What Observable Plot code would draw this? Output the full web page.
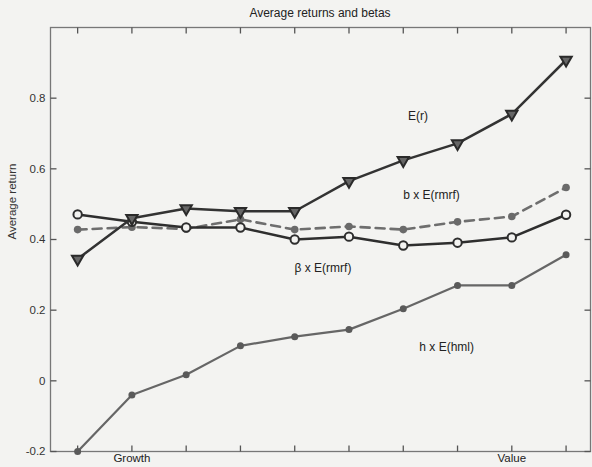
<!DOCTYPE html>
<html>
<head>
<meta charset="utf-8">
<script src="https://cdn.jsdelivr.net/npm/d3@7"></script>
<script src="https://cdn.jsdelivr.net/npm/@observablehq/plot@0.6"></script>
<style>
  html, body { margin: 0; padding: 0; background: #f3f3f1; }
  #title { height: 22px; width: 592px; font: 12px "Liberation Sans", Arial, sans-serif; color: #222;
           text-align: center; box-sizing: border-box; padding-left: 48px; line-height: 26px; }
</style>
</head>
<body>
<div id="title">Average returns and betas</div>
<div id="chart"></div>
<script>
const portfolios = [1, 2, 3, 4, 5, 6, 7, 8, 9, 10];
const er        = [0.345, 0.46, 0.488, 0.48, 0.48, 0.565, 0.624, 0.672, 0.755, 0.908];
const bErmrf    = [0.428, 0.435, 0.43, 0.457, 0.428, 0.437, 0.428, 0.45, 0.465, 0.547];
const betaErmrf = [0.471, 0.45, 0.434, 0.434, 0.40, 0.408, 0.383, 0.391, 0.406, 0.47];
const hEhml     = [-0.2, -0.04, 0.017, 0.099, 0.125, 0.145, 0.204, 0.27, 0.27, 0.357];
const yTicks = [-0.2, 0, 0.2, 0.4, 0.6, 0.8];
const xTickLabels = [{x: 2, label: "Growth"}, {x: 9, label: "Value"}];
const seriesLabels = [
  {x: 7.27, y: 0.749, text: "E(r)"},
  {x: 7.52, y: 0.525, text: "b x E(rmrf)"},
  {x: 5.52, y: 0.32, text: "β x E(rmrf)"},
  {x: 7.80, y: 0.096, text: "h x E(hml)"}
];

const rows = (vals) => portfolios.map((p, i) => ({x: p, y: vals[i]}));
const bg = "#f3f3f1";
const W = 592, H = 445, mL = 50, mR = 2, mT = 5, mB = 16, tickPx = 6;
const xDomain = [0.5, 10.45], yDomain = [-0.2, 1.0];
// tick length converted to data units so the library's scales place the ticks
const dx = tickPx * (xDomain[1] - xDomain[0]) / (W - mL - mR);
const dy = tickPx * (yDomain[1] - yDomain[0]) / (H - mT - mB);
const tickStyle = {stroke: "#555", strokeWidth: 1.3};

const chart = Plot.plot({
  width: W,
  height: H,
  marginLeft: mL,
  marginRight: mR,
  marginTop: mT,
  marginBottom: mB,
  style: {background: bg, fontFamily: "'Liberation Sans', Arial, sans-serif", fontSize: "11px", color: "#333"},
  x: {domain: xDomain, axis: null},
  y: {domain: yDomain},
  marks: [
    Plot.frame({stroke: "#777", strokeWidth: 1.3}),
    Plot.axisY(yTicks, {anchor: "left", tickSize: 0, tickPadding: 5, label: null,
      tickFormat: d => d === 0 ? "0" : d.toFixed(1).replace("\u2212", "-"), fill: "#333", fontSize: 11.5}),
    // inward ticks on all four sides of the box
    Plot.link(yTicks, {x1: xDomain[0], x2: xDomain[0] + dx, y1: d => d, y2: d => d, ...tickStyle}),
    Plot.link(yTicks, {x1: xDomain[1], x2: xDomain[1] - dx, y1: d => d, y2: d => d, ...tickStyle}),
    Plot.link(portfolios, {x1: d => d, x2: d => d, y1: yDomain[1], y2: yDomain[1] - dy, ...tickStyle}),
    Plot.link(portfolios, {x1: d => d, x2: d => d, y1: yDomain[0], y2: yDomain[0] + dy, ...tickStyle}),
    Plot.text(xTickLabels, {x: "x", text: "label", frameAnchor: "bottom", dy: 10, fill: "#222", fontSize: 11.5}),
    Plot.text(["Average return"], {frameAnchor: "left", dx: -38, rotate: -90, fill: "#333", fontSize: 11.5}),
    // h x E(hml)
    Plot.line(rows(hEhml), {x: "x", y: "y", stroke: "#666", strokeWidth: 2.2}),
    Plot.dot(rows(hEhml), {x: "x", y: "y", r: 3.5, fill: "#5a5a5a"}),
    // b x E(rmrf) dashed
    Plot.line(rows(bErmrf), {x: "x", y: "y", stroke: "#6e6e6e", strokeWidth: 2.6, strokeDasharray: "9,6"}),
    Plot.dot(rows(bErmrf), {x: "x", y: "y", r: 3.8, fill: "#6a6a6a"}),
    // beta x E(rmrf)
    Plot.line(rows(betaErmrf), {x: "x", y: "y", stroke: "#2e2e2e", strokeWidth: 2.5}),
    Plot.dot(rows(betaErmrf), {x: "x", y: "y", r: 4.2, fill: bg, stroke: "#2e2e2e", strokeWidth: 2}),
    // E(r)
    Plot.line(rows(er), {x: "x", y: "y", stroke: "#333", strokeWidth: 2.5}),
    Plot.dot(rows(er), {x: "x", y: "y", symbol: "triangle", rotate: 180, r: 4.2, fill: "#666", stroke: "#2a2a2a", strokeWidth: 2}),
    Plot.text(seriesLabels, {x: "x", y: "y", text: "text", fill: "#222", fontSize: 12})
  ]
});
document.getElementById("chart").appendChild(chart);
</script>
</body>
</html>
